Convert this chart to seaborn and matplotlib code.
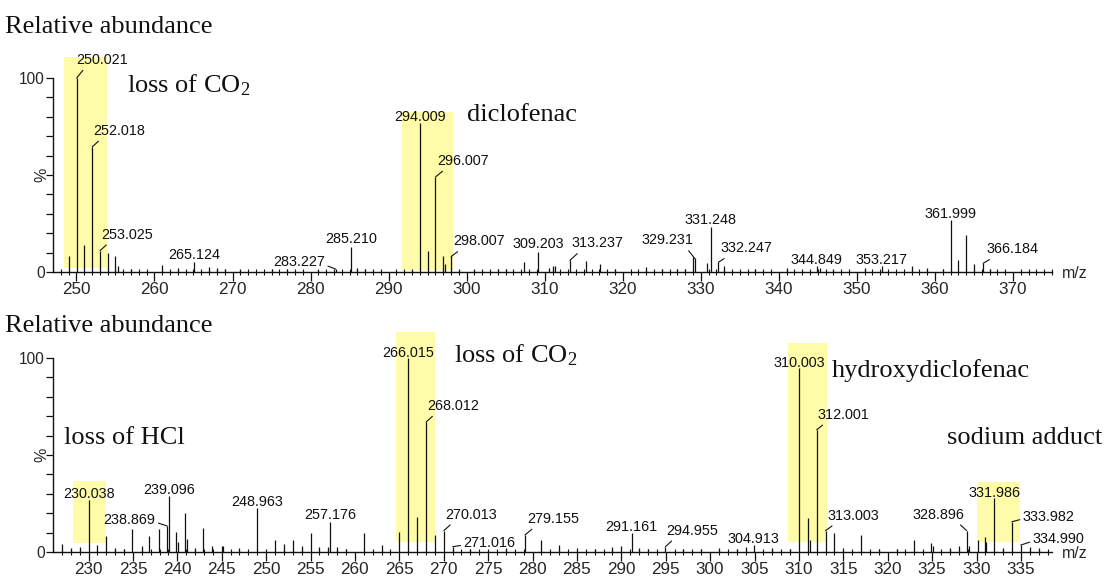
import matplotlib
matplotlib.use("Agg")
import matplotlib.pyplot as plt
import seaborn as sns

# ---------------- spectrum data ----------------
# MS/MS of diclofenac (upper) and hydroxydiclofenac (lower): m/z and relative intensity (%)
upper_mz = [249.0, 250.021, 251.0, 252.018, 253.025, 254.0, 255.0, 255.3, 257.0, 261.0,
            263.0, 265.124, 267.0, 268.0, 269.0, 271.0, 275.0, 277.0, 281.0, 283.227,
            285.210, 286.0, 287.0, 293.0, 294.009, 295.0, 296.007, 297.0, 297.2, 298.007,
            299.0, 301.0, 304.0, 305.0, 307.3, 309.203, 310.5, 311.0, 311.3, 313.237,
            315.3, 317.1, 319.0, 323.0, 325.0, 327.0, 328.0, 329.0, 329.231, 330.8,
            331.248, 332.247, 333.0, 337.0, 341.0, 344.849, 345.3, 347.0, 351.0, 353.217,
            357.0, 359.0, 361.0, 361.999, 363.0, 364.0, 365.0, 366.184, 367.0]
upper_int = [8.5, 100, 14, 64.5, 11, 10, 8, 3, 1.5, 3.5,
             2, 5, 2.5, 2, 1.5, 1, 1.5, 1.5, 1, 1.5,
             13, 2, 1.5, 1, 77, 11, 49, 8, 4, 8,
             1, 1, 1.5, 1.5, 5, 10.5, 2, 3, 3, 6,
             5.5, 4, 1.5, 2.8, 1.5, 1.5, 1.5, 7.5, 7, 4.6,
             23, 5, 3, 1.5, 2, 3, 2, 1, 2, 3,
             3, 2, 1.5, 27, 6, 19, 4, 4.5, 1.5]

lower_mz = [227.0, 228.0, 229.0, 230.038, 231.0, 232.0, 233.0, 234.0, 234.9, 236.0,
            236.8, 237.9, 238.869, 239.096, 239.85, 240.1, 240.85, 241.05, 242.0, 242.9,
            243.9, 245.0, 245.2, 247.0, 248.963, 250.0, 251.0, 252.0, 253.0, 254.0,
            255.0, 256.0, 257.0, 257.176, 258.0, 259.0, 261.0, 263.0, 265.0, 266.015,
            267.0, 268.012, 269.0, 270.013, 271.016, 273.0, 275.0, 277.0, 279.155, 281.0,
            283.0, 285.0, 287.0, 289.0, 290.0, 291.161, 292.0, 293.0, 294.955, 297.0,
            299.0, 301.0, 303.0, 304.0, 304.913, 307.0, 309.0, 310.003, 311.0, 311.2,
            312.001, 313.003, 314.0, 315.0, 317.0, 319.0, 321.0, 323.0, 324.9, 325.1,
            327.0, 328.0, 328.896, 329.1, 330.2, 330.9, 331.1, 331.986, 333.0, 333.982,
            334.990, 336.0, 337.0]
lower_int = [4, 2, 2.5, 27, 3.5, 8, 2, 1.5, 11.7, 3,
             8.5, 12, 13.4, 29, 10.5, 5, 20, 6.5, 2, 12.5,
             3, 3, 3, 2, 22.5, 1.5, 6, 4, 6, 3,
             10, 2.5, 2.5, 15.6, 2.5, 1.5, 10, 3.6, 10.5, 100,
             18, 67, 9, 11, 2.7, 1.5, 1.5, 2, 8.8, 6,
             3.6, 2, 1.5, 2.7, 3, 9.6, 2, 1.5, 2.7, 1.5,
             1.5, 2, 1.5, 2.5, 3.6, 2, 1.5, 95, 17.5, 6,
             63, 11, 10, 2, 9, 1.5, 1.5, 6, 4.5, 3,
             2, 3, 11, 3, 6, 7.5, 5, 28, 2, 15.6,
             3.6, 2.5, 2]

# highlighted ion clusters: m/z from, m/z to, % from, % to
upper_band_lo = [248.4, 291.7]
upper_band_hi = [253.9, 298.2]
upper_band_bottom = [2, 1]
upper_band_top = [111, 82.6]

lower_band_lo = [228.2, 264.6, 308.75, 330.06]
lower_band_hi = [232.0, 269.0, 313.15, 334.9]
lower_band_bottom = [4.8, 5, 5, 5]
lower_band_top = [36.6, 113.5, 108, 36]

# annotations of the highlighted clusters
upper_notes = ["loss of CO$_{\\rm 2}$", "diclofenac"]
lower_notes = ["loss of HCl", "loss of CO$_{\\rm 2}$", "hydroxydiclofenac", "sodium adduct"]

# labelled peaks (m/z) in each spectrum
upper_labelled = [250.021, 252.018, 253.025, 265.124, 283.227, 285.210, 294.009, 296.007,
                  298.007, 309.203, 313.237, 329.231, 331.248, 332.247, 344.849, 353.217,
                  361.999, 366.184]
lower_labelled = [230.038, 238.869, 239.096, 248.963, 257.176, 266.015, 268.012, 270.013,
                  271.016, 279.155, 291.161, 294.955, 304.913, 310.003, 312.001, 313.003,
                  328.896, 331.986, 333.982, 334.990]

# ---------------- layout ----------------
# label placement in pixels: (dx, dy, leader anchor on text box or None)
R = (0.17, 0.0)
L = (0.85, 0.0)
upper_label_pos = {
    250.021: (26, 14, R), 252.018: (27, 12, R), 253.025: (27, 12, R),
    265.124: (0, 3, None), 283.227: (-37, 3, (1.0, 0.3)), 285.210: (0, 4, None),
    294.009: (0, 2, None), 296.007: (28, 12, R), 298.007: (28, 11, R),
    309.203: (0, 4, None), 313.237: (28, 13, R), 329.231: (-27, 14, L),
    331.248: (0, 3, None), 332.247: (28, 10, R), 344.849: (0, 2, None),
    353.217: (0, 2, None), 361.999: (0, 2, None), 366.184: (29, 10, R),
}
lower_label_pos = {
    230.038: (0, 2, None), 238.869: (-38, 2, (1.0, 0.35)), 239.096: (0, 2, None),
    248.963: (0, 2, None), 257.176: (0, 3, None), 266.015: (0, 1, None),
    268.012: (27, 12, R), 270.013: (27, 12, R), 271.016: (37, 0, (0.0, 0.35)),
    279.155: (28, 12, R), 291.161: (0, 2, None), 294.955: (27, 12, R),
    304.913: (0, 2, None), 310.003: (0, 1, None), 312.001: (27, 11, R),
    313.003: (28, 11, R), 328.896: (-28, 12, L), 331.986: (0, 1, None),
    333.982: (37, 1, (0.0, 0.35)), 334.990: (38, 2, (0.0, 0.35)),
}
upper_note_xy = [(256.5, 92.8), (300.1, 78)]
lower_note_xy = [(227.2, 55.7), (271.2, 98), (313.74, 90.4), (326.7, 55.7)]

sns.set_theme(style="ticks")
plt.rcParams["font.family"] = ["Liberation Sans", "DejaVu Sans"]
plt.rcParams["mathtext.fontset"] = "custom"
plt.rcParams["mathtext.rm"] = "Liberation Serif"
plt.rcParams["mathtext.it"] = "Liberation Serif:italic"

SERIF = "Liberation Serif"
BAND = "#FEFCA8"

W, H = 1106, 577
fig = plt.figure(figsize=(W / 100, H / 100), dpi=100)


def draw_panel(ax, mz, inten, xlim, major, bands, labelled, label_pos, notes, note_xy):
    lo, hi, bot, top = bands
    ax.bar(lo, [t - b for t, b in zip(top, bot)], width=[h - l for h, l in zip(hi, lo)],
           bottom=bot, align="edge", color=BAND, linewidth=0, zorder=0)
    ax.vlines(mz, 0, inten, colors="#111111", linewidth=0.9, zorder=2)

    lookup = dict(zip(mz, inten))
    for m in labelled:
        dx, dy, anchor = label_pos[m]
        kw = {}
        if anchor is not None:
            kw["arrowprops"] = dict(arrowstyle="-", color="#111111", lw=0.8,
                                    shrinkA=0, shrinkB=0, relpos=anchor)
        ax.annotate(f"{m:.3f}", xy=(m, lookup[m]), xytext=(dx, dy),
                    textcoords="offset pixels", ha="center", va="baseline",
                    fontsize=10.4, color="#111111", zorder=4, **kw)

    for text, (x, y) in zip(notes, note_xy):
        ax.text(x, y, text, family=SERIF, fontsize=19, ha="left", va="baseline",
                color="#111111", zorder=5)

    ax.set_xlim(*xlim)
    ax.set_ylim(0, 115)
    sns.despine(ax=ax)
    ax.spines["left"].set_bounds(0, 100)
    for s in ("left", "bottom"):
        ax.spines[s].set_linewidth(1.0)
        ax.spines[s].set_color("#111111")

    first = int(xlim[0] // major + 1) * major
    ax.set_xticks(range(first, int(xlim[1]) + 1, major))
    ax.set_xticks(range(int(xlim[0]) + 1, int(xlim[1]) + 1), minor=True)
    ax.set_yticks([0, 100])
    ax.set_yticks(range(10, 100, 10), minor=True)
    ax.tick_params(axis="x", which="major", direction="out", length=6.5, width=0.9,
                   labelsize=12.3, pad=1, color="#111111")
    ax.tick_params(axis="x", which="minor", direction="inout", length=4.5, width=0.8,
                   color="#111111")
    ax.tick_params(axis="y", which="both", direction="out", length=5, width=0.9,
                   labelsize=11.2, pad=1, color="#111111")
    ax.annotate("%", xy=(0, 50), xycoords=("axes fraction", "data"), xytext=(-11, 0),
                textcoords="offset pixels", rotation=90, ha="center", va="center",
                fontsize=11.5)
    ax.annotate("m/z", xy=(1, 0), xycoords="axes fraction", xytext=(10, -1),
                textcoords="offset pixels", ha="left", va="center", fontsize=11.5)


ax1 = fig.add_axes([53 / W, 1 - 272 / H, 999 / W, 223 / H])
ax2 = fig.add_axes([53 / W, 1 - 552 / H, 999 / W, 223 / H])

draw_panel(ax1, upper_mz, upper_int, (247, 375), 10,
           (upper_band_lo, upper_band_hi, upper_band_bottom, upper_band_top),
           upper_labelled, upper_label_pos, upper_notes, upper_note_xy)
draw_panel(ax2, lower_mz, lower_int, (226, 338.5), 5,
           (lower_band_lo, lower_band_hi, lower_band_bottom, lower_band_top),
           lower_labelled, lower_label_pos, lower_notes, lower_note_xy)

fig.text(5 / W, 1 - 33 / H, "Relative abundance", family=SERIF, fontsize=19,
         ha="left", va="baseline", color="#111111")
fig.text(5 / W, 1 - 332 / H, "Relative abundance", family=SERIF, fontsize=19,
         ha="left", va="baseline", color="#111111")

fig.savefig("out.png", dpi=100, facecolor="white")
